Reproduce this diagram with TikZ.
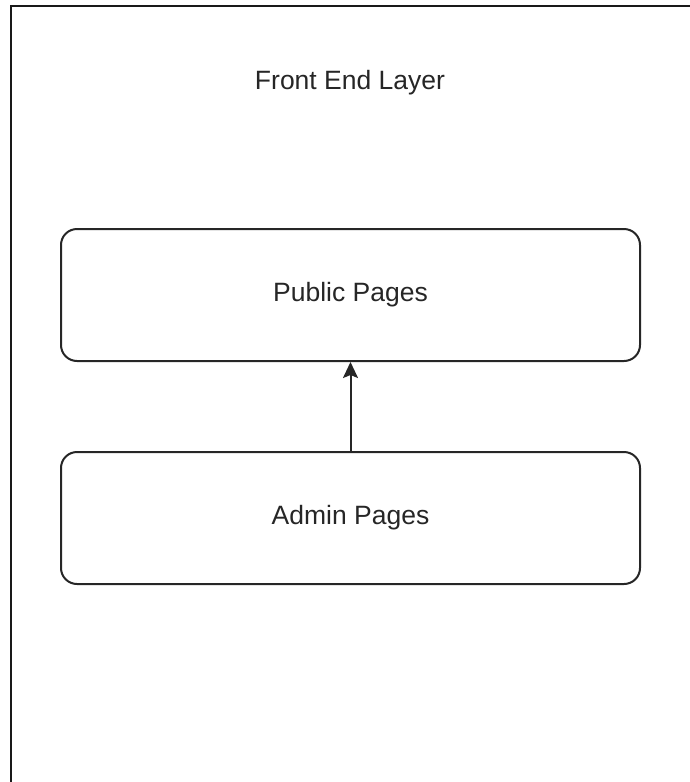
\documentclass[tikz,border=0pt]{standalone}
\usepackage{fontspec}
\setmainfont{Liberation Sans}
\usetikzlibrary{arrows.meta}
\begin{document}
\begin{tikzpicture}[x=1pt,y=-1pt,
  pagebox/.style={draw=black!85,line width=2pt,rounded corners=16pt,minimum width=579pt,minimum height=132pt,inner sep=0pt,font=\fontsize{26.5}{31}\selectfont,text=black!85},
  lbl/.style={font=\fontsize{26.5}{31}\selectfont,text=black!85},
  conn/.style={draw=black!85,line width=2pt,-{Stealth[length=16pt,width=15pt,inset=3pt]}}]
\useasboundingbox (0,0) rectangle (690,782);
\begin{scope}
\clip (0,0) rectangle (690,782);
\draw[line width=2.5pt,black!90] (11,800) -- (11,6) -- (700,6);
\end{scope}
\node[lbl] (title) at (350,83) {Front End Layer};
\node[pagebox] (public) at (350.5,295) {\raisebox{-2pt}{Public Pages}};
\node[pagebox] (admin) at (350.5,518) {\raisebox{-2pt}{Admin Pages}};
\draw[conn] (admin.north) -- (public.south);
\end{tikzpicture}
\end{document}
